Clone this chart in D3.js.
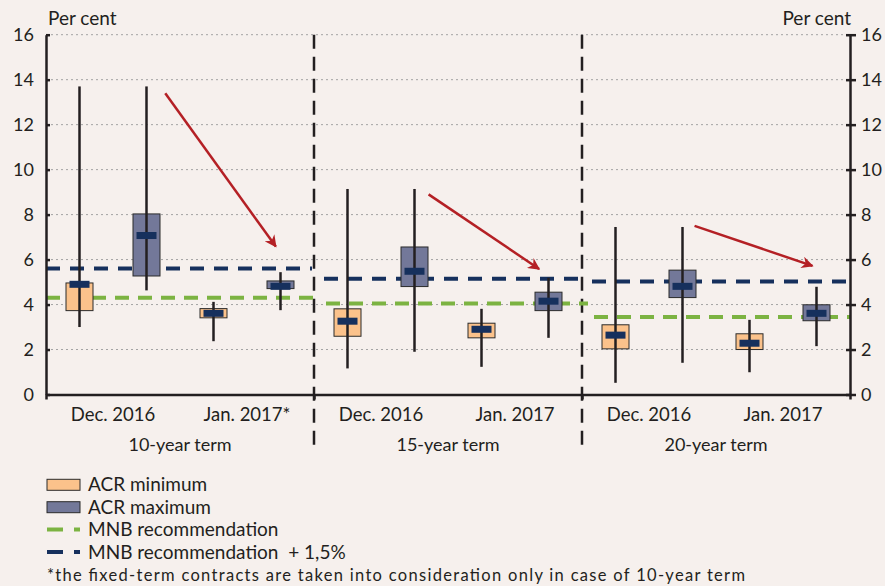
<!DOCTYPE html>
<html>
<head>
<meta charset="utf-8">
<script src="https://cdn.jsdelivr.net/npm/d3@7"></script>
<style>
  body { margin: 0; background: #f6f0ed; }
  svg { display: block; font-family: Lato, "Open Sans", sans-serif; }
  text { fill: #231f20; }
</style>
</head>
<body>
<div id="chart"></div>
<script>
// data
var terms = ["10-year term", "15-year term", "20-year term"];
var monthLabels = ["Dec. 2016", "Jan. 2017*", "Dec. 2016", "Jan. 2017", "Dec. 2016", "Jan. 2017"];
var boxType = ["min", "max", "min", "max", "min", "max", "min", "max", "min", "max", "min", "max"];

var whiskerLow  = [3.0, 4.63, 2.37, 3.75, 1.16, 1.9, 1.23, 2.52, 0.52, 1.41, 0.99, 2.15];
var boxLow      = [3.73, 5.27, 3.41, 4.71, 2.59, 4.8, 2.52, 3.73, 2.03, 4.31, 2.0, 3.28];
var boxMid      = [4.9, 7.07, 3.61, 4.81, 3.26, 5.48, 2.9, 4.15, 2.64, 4.81, 2.28, 3.61];
var boxHigh     = [4.96, 8.03, 3.82, 5.05, 3.81, 6.56, 3.17, 4.55, 3.1, 5.53, 2.7, 3.99];
var whiskerHigh = [13.7, 13.7, 4.12, 5.44, 9.14, 9.14, 3.81, 5.19, 7.45, 7.45, 3.32, 4.79];

var mnb     = [4.3, 4.05, 3.45];
var mnbPlus = [5.6, 5.15, 5.02];

// arrows: [x from, value from, x to, value to] in slot units
var arrows = [[1.78, 13.4, 3.43, 6.58], [5.71, 8.9, 7.36, 5.58], [9.68, 7.5, 11.44, 5.72]];

var yTicks = [0, 2, 4, 6, 8, 10, 12, 14, 16];

var W = 885, H = 586;
var colors = {min: "#fbc28b", max: "#737899", mid: "#16305d", green: "#7cb342", navy: "#16305d", red: "#b42025", ink: "#231f20"};

var svg = d3.select("#chart").append("svg").attr("width", W).attr("height", H);

var x = d3.scaleLinear().domain([0, 12]).range([46, 850]);
var y = d3.scaleLinear().domain([0, 16]).range([394.5, 34.7]);

// gridlines
svg.append("g").selectAll("line")
   .data(yTicks.filter(function(d){ return d > 0; }))
   .enter().append("line")
   .attr("x1", x(0)).attr("x2", x(12))
   .attr("y1", function(d){ return y(d); }).attr("y2", function(d){ return y(d); })
   .attr("stroke", "#a3a3a3").attr("stroke-width", 1).attr("stroke-dasharray", "2,3");

// section dividers
svg.append("g").selectAll("line")
   .data([4, 8])
   .enter().append("line")
   .attr("x1", function(d){ return x(d); }).attr("x2", function(d){ return x(d); })
   .attr("y1", y(16)).attr("y2", 452)
   .attr("stroke", colors.ink).attr("stroke-width", 2.5).attr("stroke-dasharray", "14,8");

// MNB recommendation lines
svg.append("g").selectAll("line")
   .data(mnb)
   .enter().append("line")
   .attr("x1", function(d, i){ return x(i * 4) + (i ? 12 : 0); })
   .attr("x2", function(d, i){ return x(i * 4 + 4) + (i < 2 ? 6 : 0); })
   .attr("y1", function(d){ return y(d); }).attr("y2", function(d){ return y(d); })
   .attr("stroke", colors.green).attr("stroke-width", 4).attr("stroke-dasharray", "14,9");

svg.append("g").selectAll("line")
   .data(mnbPlus)
   .enter().append("line")
   .attr("x1", function(d, i){ return x(i * 4) + (i ? 10 : 0); })
   .attr("x2", function(d, i){ return x(i * 4 + 4) - (i < 2 ? 2 : 0); })
   .attr("y1", function(d){ return y(d); }).attr("y2", function(d){ return y(d); })
   .attr("stroke", colors.navy).attr("stroke-width", 4).attr("stroke-dasharray", "14,10");

// boxes
var slots = d3.range(12);
var boxW = 27, midW = 20, midH = 7;

var g = svg.append("g").selectAll("g").data(slots).enter().append("g");

g.append("rect")
 .attr("x", function(i){ return x(i + 0.5) - boxW / 2; })
 .attr("width", boxW)
 .attr("y", function(i){ return y(boxHigh[i]); })
 .attr("height", function(i){ return y(boxLow[i]) - y(boxHigh[i]); })
 .attr("fill", function(i){ return colors[boxType[i]]; })
 .attr("stroke", "#2b2b2b").attr("stroke-width", 1);

g.append("line")
 .attr("x1", function(i){ return x(i + 0.5); }).attr("x2", function(i){ return x(i + 0.5); })
 .attr("y1", function(i){ return y(whiskerHigh[i]); }).attr("y2", function(i){ return y(whiskerLow[i]); })
 .attr("stroke", colors.ink).attr("stroke-width", 2.5);

g.append("rect")
 .attr("x", function(i){ return x(i + 0.5) - midW / 2; })
 .attr("width", midW)
 .attr("y", function(i){ return y(boxMid[i]) - midH / 2; })
 .attr("height", midH)
 .attr("fill", colors.mid);

// arrows
var defs = svg.append("defs");
defs.append("marker").attr("id", "head")
    .attr("viewBox", "0 0 10 10").attr("refX", 9).attr("refY", 5)
    .attr("orient", "auto")
    .attr("markerUnits", "userSpaceOnUse")
    .attr("markerWidth", 16).attr("markerHeight", 12)
    .append("path").attr("d", "M0,0 L10,5 L0,10 L3,5 Z").attr("fill", colors.red);

svg.append("g").selectAll("line")
   .data(arrows)
   .enter().append("line")
   .attr("x1", function(d){ return x(d[0]); }).attr("y1", function(d){ return y(d[1]); })
   .attr("x2", function(d){ return x(d[2]); }).attr("y2", function(d){ return y(d[3]); })
   .attr("stroke", colors.red).attr("stroke-width", 2.5)
   .attr("marker-end", "url(#head)");

// axes
svg.append("g")
   .attr("transform", "translate(" + x(0) + ",0)")
   .call(d3.axisLeft(y).tickValues(yTicks).tickSize(6).tickSizeOuter(0))
   .call(function(a){
     a.select(".domain").attr("stroke", colors.ink).attr("stroke-width", 2.5);
     a.selectAll(".tick line").attr("stroke", colors.ink).attr("stroke-width", 2.5).attr("x2", 4);
     a.selectAll(".tick text").attr("x", -12).attr("font-size", 18).style("fill", colors.ink).attr("font-family", "Lato");
   });

svg.append("g")
   .attr("transform", "translate(" + x(12) + ",0)")
   .call(d3.axisRight(y).tickValues(yTicks).tickSize(6).tickSizeOuter(0))
   .call(function(a){
     a.select(".domain").attr("stroke", colors.ink).attr("stroke-width", 2.5);
     a.selectAll(".tick line").attr("stroke", colors.ink).attr("stroke-width", 2.5).attr("x1", -4);
     a.selectAll(".tick text").attr("x", 11).attr("font-size", 18).style("fill", colors.ink).attr("font-family", "Lato");
   });

svg.append("g")
   .attr("transform", "translate(0," + y(0) + ")")
   .call(d3.axisBottom(x).tickValues([0, 4, 8, 12]).tickSize(5).tickSizeOuter(0).tickFormat(""))
   .call(function(a){
     a.select(".domain").attr("stroke", colors.ink).attr("stroke-width", 2.5);
     a.selectAll(".tick line").attr("stroke", colors.ink).attr("stroke-width", 2.5);
   });

// y titles
svg.append("text").attr("x", 48).attr("y", 25).attr("font-size", 19).text("Per cent");
svg.append("text").attr("x", 851).attr("y", 25).attr("font-size", 19).attr("text-anchor", "end").text("Per cent");

// category labels
svg.append("g").selectAll("text")
   .data(monthLabels)
   .enter().append("text")
   .attr("x", function(d, i){ return x(i * 2 + 1); })
   .attr("y", 421).attr("font-size", 18.5).attr("text-anchor", "middle")
   .text(function(d){ return d; });

svg.append("g").selectAll("text")
   .data(terms)
   .enter().append("text")
   .attr("x", function(d, i){ return x(i * 4 + 2); })
   .attr("y", 451).attr("font-size", 18).attr("text-anchor", "middle")
   .text(function(d){ return d; });

// legend
var leg = svg.append("g").attr("transform", "translate(47,0)");
var legItems = [
  {label: "ACR minimum", kind: "box", color: colors.min},
  {label: "ACR maximum", kind: "box", color: colors.max},
  {label: "MNB recommendation", kind: "line", color: colors.green},
  {label: "MNB recommendation  + 1,5%", kind: "line", color: colors.navy}
];
legItems.forEach(function(d, i){
  var cy = 484.8 + i * 22.4;
  if (d.kind === "box") {
    leg.append("rect").attr("x", 0).attr("y", cy - 5.5).attr("width", 33).attr("height", 11)
       .attr("fill", d.color).attr("stroke", "#2b2b2b").attr("stroke-width", 1);
  } else {
    leg.append("line").attr("x1", 0).attr("x2", 33).attr("y1", cy).attr("y2", cy)
       .attr("stroke", d.color).attr("stroke-width", 4).attr("stroke-dasharray", "16,11");
  }
  leg.append("text").attr("x", 41).attr("y", cy + 6.5).attr("font-size", 19)
     .style("white-space", "pre").text(d.label);
});

svg.append("text").attr("x", 47).attr("y", 581).attr("font-size", 16.5)
   .attr("textLength", 698).attr("lengthAdjust", "spacing")
   .text("*the fixed-term contracts are taken into consideration only in case of 10-year term");
</script>
</body>
</html>
